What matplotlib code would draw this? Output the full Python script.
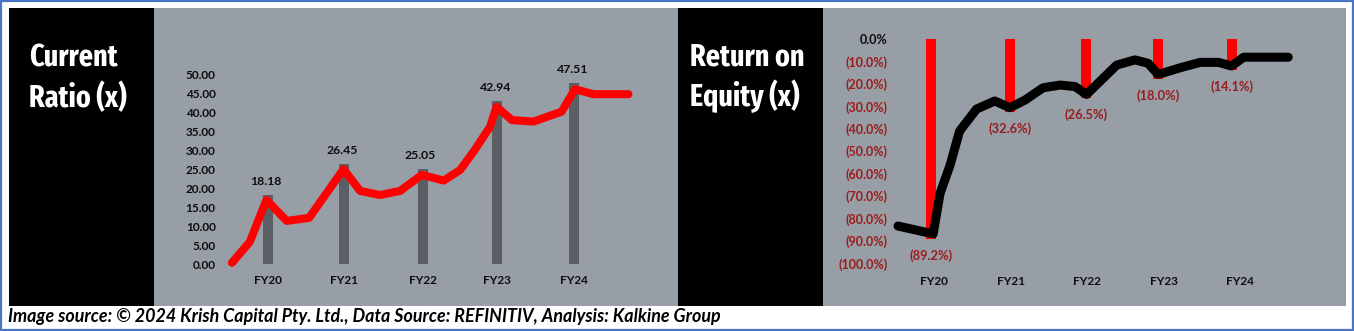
"""Current ratio and return on equity panels (FY20-FY24)."""

from pathlib import Path

import matplotlib

matplotlib.use("Agg")
import matplotlib.pyplot as plt
from matplotlib import font_manager
from matplotlib.patches import Rectangle

W, H = 1354, 331

# x positions are months counted from the FY20 bar
fy_labels = ["FY20", "FY21", "FY22", "FY23", "FY24"]

cr_bar_month = [0, 11.9, 24.2, 35.9, 48.0]
cr_bar_value = [18.18, 26.45, 25.05, 42.94, 47.51]
cr_line_month = [-5.7, -2.9, -0.3, 2.9, 6.4, 11.8, 14.4, 17.5, 20.7, 24.1, 27.5,
                 30.1, 32.2, 34.8, 35.8, 38.2, 41.6, 46.0, 48.1, 51.0, 56.5]
cr_line_value = [0.4, 5.9, 16.9, 11.4, 12.2, 25.0, 19.3, 18.2, 19.3, 23.5, 22.0,
                 24.8, 29.6, 36.2, 41.4, 37.9, 37.5, 40.1, 46.0, 44.7, 44.7]
cr_ticks = [0, 5, 10, 15, 20, 25, 30, 35, 40, 45, 50]

roe_bar_month = [0, 12.7, 24.7, 36.2, 48.0]
roe_tick_month = [0.5, 12.8, 24.9, 37.1, 49.2]
roe_bar_value = [-89.2, -32.6, -26.5, -18.0, -14.1]
roe_line_month = [-5.2, 0.4, 1.5, 3.1, 4.6, 7.3, 10.2, 12.6, 15.0, 17.9, 20.6, 23.0,
                  24.8, 29.6, 32.5, 34.6, 36.2, 39.7, 42.9, 45.8, 47.9, 49.8, 56.9]
roe_line_value = [-83.4, -86.9, -68.8, -56.2, -41.1, -31.3, -27.7, -30.7, -27.3, -21.8,
                  -20.6, -21.3, -24.8, -11.7, -9.4, -10.9, -15.9, -12.9, -10.5, -10.5,
                  -12.1, -8.2, -8.2]
roe_ticks = [0, -10, -20, -30, -40, -50, -60, -70, -80, -90, -100]

FOOTER = ("Image source: \u00a9 2024 Krish Capital Pty. Ltd., Data Source: REFINITIV, "
          "Analysis: Kalkine Group")

TICK_FONT = ["Lato", "DejaVu Sans"]
PANEL_GRAY = "#979ea6"
DARK_RED = "#9a1c1c"


def _condensed_title_font():
    """Find an installed condensed bold face for the panel titles."""
    best = None
    for entry in font_manager.fontManager.ttflist:
        stem = Path(entry.fname).stem.lower().replace("-", "").replace("_", "")
        if "bold" not in stem or any(k in stem for k in ("italic", "oblique", "semibold", "extrabold")):
            continue
        if "extracondensed" in stem or "ultracondensed" in stem:
            rank = 0
        elif "semicondensed" in stem:
            rank = 2
        elif "condensed" in stem or "narrow" in stem or "cond" in stem:
            rank = 1
        else:
            continue
        if best is None or rank < best[0]:
            best = (rank, entry.fname)
    if best is None:
        return font_manager.FontProperties(family="DejaVu Sans", weight="bold")
    return font_manager.FontProperties(fname=best[1])


def px_axes(fig, x0, x1, y0, y1):
    """Axes placed by pixel edges (y measured from the top)."""
    ax = fig.add_axes([x0 / W, 1 - y1 / H, (x1 - x0) / W, (y1 - y0) / H])
    ax.set_facecolor("none")
    for spine in ax.spines.values():
        spine.set_visible(False)
    ax.tick_params(length=0)
    return ax


fig = plt.figure(figsize=(W / 100, H / 100), dpi=100)
fig.patch.set_facecolor("white")

bg = fig.add_axes([0, 0, 1, 1])
bg.set_xlim(0, W)
bg.set_ylim(H, 0)
bg.axis("off")
bg.add_patch(Rectangle((1, 1), W - 2.5, H - 2.5, fill=False, edgecolor="#4a76c8", linewidth=1.6))
bg.add_patch(Rectangle((9, 8.3), 145, 297.4, color="black", linewidth=0))
bg.add_patch(Rectangle((154, 8.3), 524.3, 297.4, color=PANEL_GRAY, linewidth=0))
bg.add_patch(Rectangle((678.3, 8.3), 144.4, 297.4, color="black", linewidth=0))
bg.add_patch(Rectangle((822.7, 8.3), 523, 297.4, color=PANEL_GRAY, linewidth=0))

title_font = _condensed_title_font()
title_font.set_size(22)
titles = [
    bg.text(29, 66.7, "Current", color="white", fontproperties=title_font, va="baseline"),
    bg.text(29, 107, "Ratio (x)", color="white", fontproperties=title_font, va="baseline"),
    bg.text(690, 65, "Return on", color="white", fontproperties=title_font, va="baseline"),
    bg.text(690, 106, "Equity (x)", color="white", fontproperties=title_font, va="baseline"),
]
title_widths = [93, 100, 114, 115]

footer = bg.text(8, 321.7, FOOTER, fontsize=11, fontweight="bold", style="italic",
                 family=TICK_FONT, va="baseline", color="black")

# current ratio panel
ax1 = px_axes(fig, 217.3, 650.8, 66.4, 264.3)
ax1.set_xlim(-8, 60)
ax1.set_ylim(0, 52)
ax1.bar(cr_bar_month, cr_bar_value, width=1.57, color="#5b5f63", zorder=2)
ax1.plot(cr_line_month, cr_line_value, color="#ff0000", linewidth=5.8,
         solid_capstyle="round", solid_joinstyle="round", zorder=3, clip_on=False)
for m, v in zip(cr_bar_month, cr_bar_value):
    ax1.annotate(f"{v:.2f}", (m, v), xytext=(-2, 13.5), textcoords="offset pixels",
                 ha="center", va="center", fontsize=8.8, fontweight="bold",
                 family=TICK_FONT, color="#0d0d0d", zorder=4, annotation_clip=False)
ax1.set_yticks(cr_ticks)
ax1.set_yticklabels([f"{t:.2f}" for t in cr_ticks], fontsize=8.5, fontweight="bold",
                    family=TICK_FONT, color="#0d0d0d")
ax1.set_xticks(cr_bar_month)
ax1.set_xticklabels(fy_labels, fontsize=8.5, fontweight="bold", family=TICK_FONT, color="#0d0d0d")
ax1.tick_params(axis="y", pad=1.2)
ax1.tick_params(axis="x", pad=8)

# return on equity panel
ax2 = px_axes(fig, 889.2, 1307.7, 38.8, 263.3)
ax2.set_xlim(-6.6, 60)
ax2.set_ylim(-100, 0)
ax2.bar(roe_bar_month, roe_bar_value, width=1.59, color="#ff0000", zorder=2)
ax2.plot(roe_line_month, roe_line_value, color="black", linewidth=6.5,
         solid_capstyle="round", solid_joinstyle="round", zorder=3, clip_on=False)
for m, v in zip(roe_bar_month, roe_bar_value):
    ax2.annotate(f"({abs(v):.1f}%)", (m, v), xytext=(0, -16.5), textcoords="offset pixels",
                 ha="center", va="center", fontsize=9.3, fontweight="bold",
                 family=TICK_FONT, color=DARK_RED, zorder=4, annotation_clip=False)
ax2.set_yticks(roe_ticks)
ax2.set_yticklabels(["0.0%" if t == 0 else f"({abs(t):.1f}%)" for t in roe_ticks],
                    fontsize=9, fontweight="bold", family=TICK_FONT)
for t, lab in zip(roe_ticks, ax2.get_yticklabels()):
    lab.set_color("#0d0d0d" if t == 0 else DARK_RED)
ax2.set_xticks(roe_tick_month)
ax2.set_xticklabels(fy_labels, fontsize=8.5, fontweight="bold", family=TICK_FONT, color="#0d0d0d")
ax2.tick_params(axis="y", pad=1.2)
ax2.tick_params(axis="x", pad=9)

# fit footer and titles to the widths they have in the source image
fig.canvas.draw()
footer.set_fontsize(11 * 710 / footer.get_window_extent().width)
scale = min(target / t.get_window_extent().width for t, target in zip(titles, title_widths))
title_size = min(22 * scale, 27)
for t in titles:
    t.set_fontsize(title_size)

fig.savefig("out.png", dpi=100)
